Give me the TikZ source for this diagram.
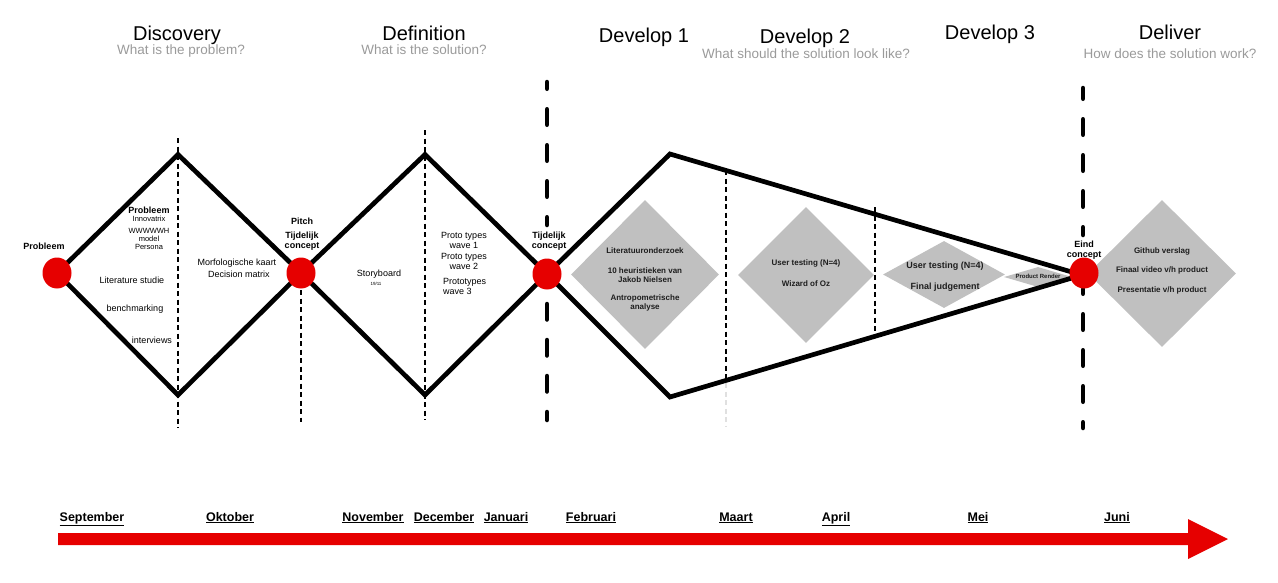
\documentclass[tikz,border=0pt]{standalone}
\usepackage{fontspec}
\setmainfont{Liberation Sans}
\usetikzlibrary{shapes.geometric}
\definecolor{rd}{HTML}{E60000}
\definecolor{gr}{HTML}{C0C0C0}
\definecolor{subc}{HTML}{9A9A9A}
\definecolor{dk}{HTML}{1E1E1E}
\newcommand\fsz[2]{\fontsize{#1}{#2}\selectfont}
\tikzset{
  title/.style={font=\fsz{20}{24}, inner sep=0, anchor=base},
  subt/.style={font=\fsz{13.5}{16}, text=subc, inner sep=0, anchor=base},
  lb/.style={font=\fsz{9}{10}\bfseries, inner sep=0, align=center},
  tx/.style={font=\fsz{9}{10.5}, inner sep=0, align=center},
  sm/.style={font=\fsz{7.5}{8}, inner sep=0, align=center},
  dt/.style={font=\fsz{8}{8.6}\bfseries, text=dk, inner sep=0, align=center},
  dtb/.style={font=\fsz{9}{10}\bfseries, text=dk, inner sep=0, align=center},
  month/.style={font=\fsz{12.5}{14}\bfseries, inner sep=0, anchor=base},
  mainline/.style={line width=4.7pt, line join=miter},
  thindash/.style={line width=1.3pt, dash pattern=on 5pt off 3.5pt},
  thickdash/.style={line width=4.5pt, line cap=round, dash pattern=on 15.5pt off 20.5pt},
  dot/.style={ellipse, fill=rd, minimum width=29pt, minimum height=31pt, inner sep=0},
  gd/.style={diamond, fill=gr, inner sep=0},
}
\begin{document}
\begin{tikzpicture}[x=1pt,y=-1pt]
\useasboundingbox (0,0) rectangle (1278,582);

% grey diamonds
\node[gd, minimum width=148pt, minimum height=149pt] (g1) at (645,274.5) {};
\node[gd, minimum width=136pt, minimum height=136pt] (g2) at (806,275) {};
\node[gd, minimum width=122pt, minimum height=67pt] (g3) at (944,274.5) {};
\node[gd, minimum width=68pt, minimum height=20pt] (g4) at (1038,277) {};
\node[gd, minimum width=148pt, minimum height=147pt] (g5) at (1162,273.5) {};

% coordinates
\coordinate (k1) at (57,273);
\coordinate (k2) at (301,273);
\coordinate (k3) at (547,274);
\coordinate (k4) at (1084,273);
\coordinate (k4e) at (1082,275);
\coordinate (a1) at (178,154.5);
\coordinate (b1) at (178,395);
\coordinate (a2) at (425,154.5);
\coordinate (b2) at (425,395);
\coordinate (a3) at (670,154);
\coordinate (b3) at (670,397);

% thin dashed lines
\coordinate (d1a) at (178,138); \coordinate (d1b) at (178,428);
\coordinate (d2a) at (301,290); \coordinate (d2b) at (301,422);
\coordinate (d3a) at (425,130); \coordinate (d3b) at (425,420);
\coordinate (d4a) at (726,170); \coordinate (d4b) at (726,383); \coordinate (d4c) at (726,427);
\coordinate (d5a) at (875,207); \coordinate (d5b) at (875,338);
\draw[thindash] (d1a) -- (d1b);
\draw[thindash] (d2a) -- (d2b);
\draw[thindash] (d3a) -- (d3b);
\draw[thindash] (d4a) -- (d4b);
\draw[thindash, black!12] (d4b) -- (d4c);
\draw[thindash] (d5a) -- (d5b);

% thick dashed lines
\coordinate (e1a) at (547,82); \coordinate (e1b) at (547,225);
\coordinate (e1c) at (547,304); \coordinate (e1d) at (547,420);
\coordinate (e2a) at (1083,88); \coordinate (e2b) at (1083,235);
\coordinate (e2c) at (1083,289); \coordinate (e2d) at (1083,428);
\draw[thickdash, dash phase=8.75pt] (e1a) -- (e1b);
\draw[thickdash] (e1c) -- (e1d);
\draw[thickdash, dash phase=4.75pt] (e2a) -- (e2b);
\draw[thickdash, dash phase=10.75pt] (e2c) -- (e2d);

% main double diamond lines
\draw[mainline] (k1) -- (a1) -- (k2) -- (a2) -- (k3) -- (a3) -- (k4e);
\draw[mainline] (k1) -- (b1) -- (k2) -- (b2) -- (k3) -- (b3) -- (k4e);

% red dots
\node[dot] (c1) at (k1) {};
\node[dot] (c2) at (k2) {};
\node[dot] (c3) at (k3) {};
\node[dot] (c4) at (k4) {};

% titles
\node[title] (t1) at (177,40) {Discovery};
\node[subt] (s1) at (181,54) {What is the problem?};
\node[title] (t2) at (424,40) {Definition};
\node[subt] (s2) at (424,54) {What is the solution?};
\node[title] (t3) at (644,42.5) {Develop 1};
\node[title] (t4) at (805,43) {Develop 2};
\node[subt] (s4) at (806,58.5) {What should the solution look like?};
\node[title] (t5) at (990,39) {Develop 3};
\node[title] (t6) at (1170,39.5) {Deliver};
\node[subt] (s6) at (1170,58.5) {How does the solution work?};

% discovery labels
\node[lb] (p1) at (44,246) {Probleem};
\node[lb] (p2) at (149,210) {Probleem};
\node[sm] (innov) at (149,219) {Innovatrix};
\node[sm] (ww) at (149,230.5) {WWWWWH};
\node[sm] (model) at (149,239) {model};
\node[sm] (pers) at (149,247) {Persona};
\node[tx] (lit) at (132,280) {Literature studie};
\node[tx] (bench) at (135,309) {benchmarking};
\node[tx] (interv) at (152,340) {interviews};
\node[tx] (morf) at (237,263) {Morfologische kaart};
\node[tx] (dec) at (239,274) {Decision matrix};

% definition labels
\node[lb] (pitch) at (302,221) {Pitch};
\node[lb] (tij1) at (302,241.5) {Tijdelijk\\concept};
\node[tx] (story) at (379,274) {Storyboard};
\node[font=\fsz{4.5}{5}, inner sep=0] (date) at (376,284) {19/11};
\node[tx, font=\fsz{9}{10}] (pt1) at (464,240) {Proto types\\wave 1};
\node[tx, font=\fsz{9}{10}] (pt2) at (464,261) {Proto types\\wave 2};
\node[tx, font=\fsz{9}{9.5}, align=left, anchor=west] (pt3) at (443,286.5) {Prototypes\\wave 3};
\node[lb] (tij2) at (549,241) {Tijdelijk\\concept};
\node[lb] (eind) at (1084,250) {Eind\\concept};

% develop 1
\node[dt] (l1) at (645,251) {Literatuuronderzoek};
\node[dt] (l2) at (645,275) {10 heuristieken van\\Jakob Nielsen};
\node[dt] (l3) at (645,303) {Antropometrische\\analyse};
% develop 2
\node[dt] (u1) at (806,263.5) {User testing (N=4)};
\node[dt] (w1) at (806,284) {Wizard of Oz};
% develop 3
\node[dtb] (u2) at (945,266) {User testing (N=4)};
\node[dtb] (f1) at (945,287) {Final judgement};
\node[font=\fsz{6}{7}\bfseries, text=dk, inner sep=0] (pr) at (1038,276.5) {Product Render};
% deliver
\node[dt] (gh) at (1162,251) {Github verslag};
\node[dt] (fv) at (1162,270.5) {Finaal video v/h product};
\node[dt] (pp) at (1162,290.5) {Presentatie v/h product};

% months
\node[month] (m1) at (92,521) {\underline{September}};
\node[month] (m2) at (230,521) {\underline{Oktober}};
\node[month] (m3) at (373,521) {\underline{November}};
\node[month] (m4) at (444,521) {\underline{December}};
\node[month] (m5) at (506,521) {\underline{Januari}};
\node[month] (m6) at (591,521) {\underline{Februari}};
\node[month] (m7) at (736,521) {\underline{Maart}};
\node[month] (m8) at (836,521) {\underline{April}};
\node[month] (m9) at (978,521) {\underline{Mei}};
\node[month] (m10) at (1117,521) {\underline{Juni}};

% timeline arrow
\fill[rd] (58,533) -- (1188,533) -- (1188,519) -- (1228,539) -- (1188,559) -- (1188,545) -- (58,545) -- cycle;
\end{tikzpicture}
\end{document}
